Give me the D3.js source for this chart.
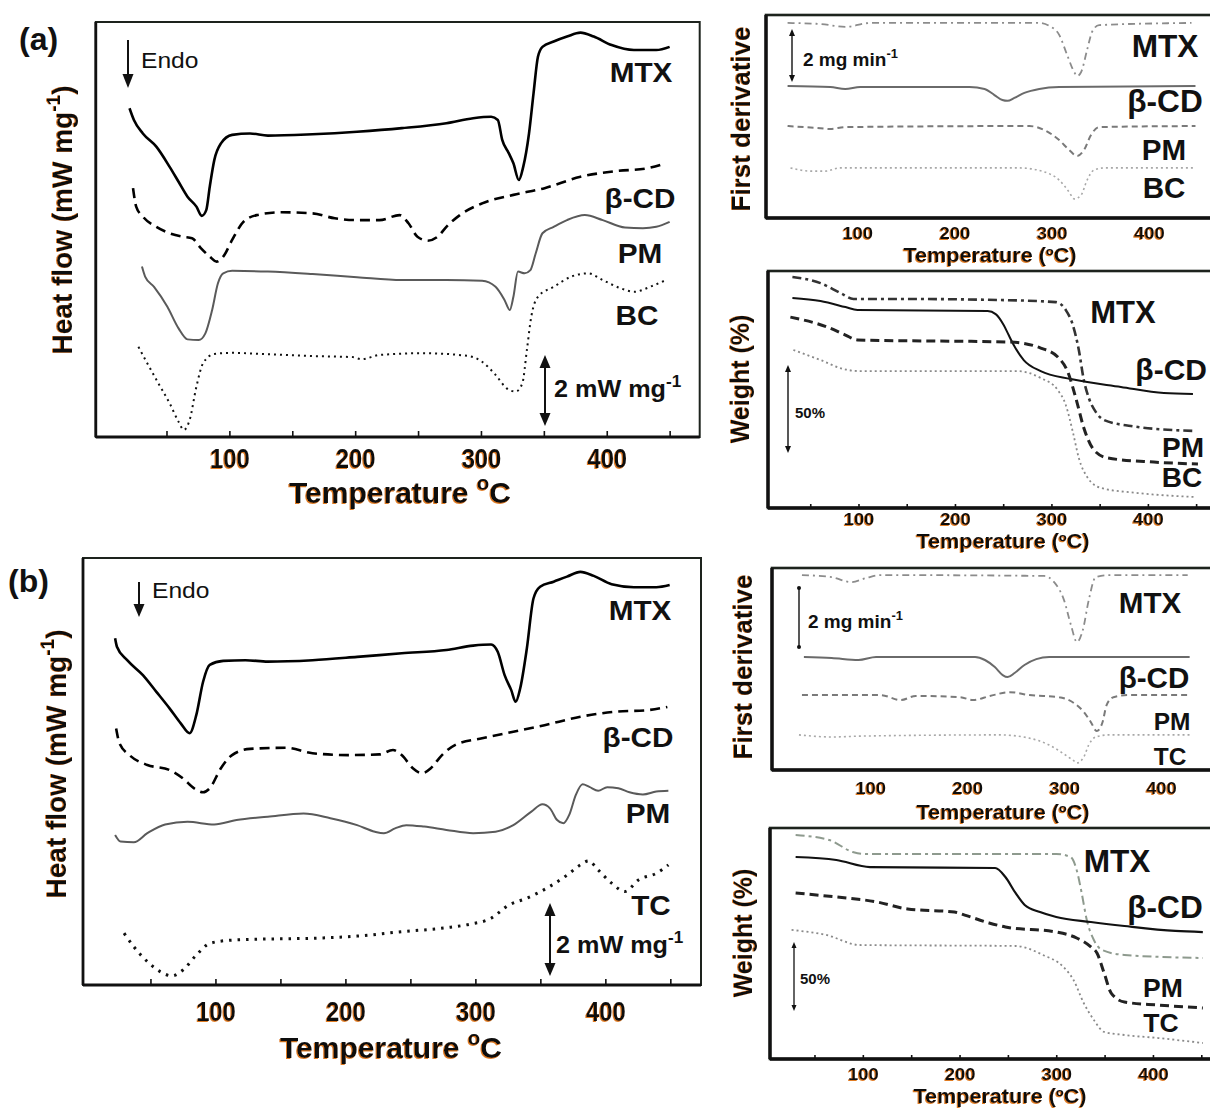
<!DOCTYPE html>
<html><head><meta charset="utf-8">
<script src="https://cdn.jsdelivr.net/npm/d3@7"></script>
<style>
body{margin:0;background:#fff;}
text{font-family:"Liberation Sans",Arial,Helvetica,sans-serif;font-weight:bold;fill:#111;}
</style></head><body>
<script>
// ---------------- DATA ----------------
const tickValues = [50,100,150,200,250,300,350,400,450];
const tickLabels = [100,200,300,400];
const seriesA = ["MTX","β-CD","PM","BC"];
const seriesB = ["MTX","β-CD","PM","TC"];

// DSC (a): [temperature °C, heat flow mW/mg (stacked offset)]
const dscA_MTX = [[20.6,9.26],[24.1,8.93],[31.2,8.55],[41.9,8.18],[52.5,7.61],[59.6,7.19],[66.7,6.77],[73.8,6.49],[78.1,6.23],[81.6,6.39],[84.4,7.05],[88,7.80],[93.3,8.27],[102.2,8.51],[116.4,8.55],[130.6,8.49],[166.1,8.53],[201.5,8.60],[237.1,8.70],[272.5,8.84],[293.8,8.98],[308.1,9.02],[313.4,8.93],[316.9,8.37],[322.2,7.99],[325.8,7.71],[330.1,7.24],[333.6,7.61],[338.2,8.55],[341.8,9.68],[345.3,10.71],[348.9,10.99],[357.8,11.14],[368.4,11.28],[379.1,11.39],[389.7,11.28],[403.9,11.04],[421.6,10.90],[439.4,10.90],[450,10.99]];
const dscA_BCD = [[23.4,7.01],[25.9,6.49],[31.2,6.21],[41.9,5.92],[52.5,5.74],[63.1,5.64],[70.3,5.60],[77.3,5.32],[84.4,5.08],[89.8,4.94],[95.1,5.08],[102.2,5.55],[111.1,6.06],[121.7,6.25],[141.3,6.33],[166.1,6.30],[183.8,6.16],[201.5,6.11],[219.3,6.11],[235.3,6.25],[242.4,6.02],[249.5,5.64],[257.7,5.53],[265.5,5.64],[272.5,5.92],[283.2,6.25],[300.9,6.58],[325.8,6.82],[350.6,7.01],[379.1,7.33],[407.5,7.49],[432.3,7.57],[446.5,7.71]];
const dscA_PM = [[30.5,4.80],[33,4.52],[40.1,4.23],[50.7,3.67],[59.6,3.06],[66.7,2.75],[75.6,2.73],[80.9,2.92],[86.3,3.58],[90.9,4.33],[95.1,4.61],[102.2,4.68],[130.6,4.66],[166.1,4.59],[201.5,4.50],[237.1,4.42],[272.5,4.42],[300.9,4.40],[311.6,4.23],[318.7,3.86],[322.9,3.58],[325.8,3.95],[329.4,4.66],[334.7,4.61],[339.3,4.70],[343.5,5.17],[348.9,5.74],[357.8,5.92],[368.4,6.11],[382.6,6.25],[396.8,6.11],[414.5,5.90],[428.8,5.88],[439.4,5.92],[450,6.06]];
const dscA_BC = [[27.7,2.54],[34.7,2.08],[43.6,1.51],[52.5,0.95],[59.6,0.43],[63.8,0.20],[68.4,0.48],[73.8,1.42],[79.1,2.08],[88,2.34],[102.2,2.37],[130.6,2.33],[166.1,2.28],[198,2.25],[205.1,2.19],[219.3,2.31],[254.8,2.36],[290.3,2.28],[300.9,2.12],[311.6,1.75],[320.5,1.37],[327.5,1.28],[332.9,1.51],[336.5,2.45],[340,3.39],[345.3,3.95],[357.8,4.23],[371.9,4.52],[385.4,4.61],[396.8,4.42],[411,4.19],[421.6,4.09],[435.8,4.25],[448.2,4.44]];

// DSC (b)
const dscB_MTX = [[22.8,9.50],[24.2,9.27],[32.1,8.90],[44.2,8.49],[54.4,8.04],[64.7,7.58],[73.3,7.17],[80.2,6.90],[85.3,7.40],[90.5,8.31],[95.6,8.77],[106,8.88],[123.1,8.90],[140.3,8.86],[174.7,8.90],[209,8.99],[243.3,9.09],[277.7,9.18],[298.3,9.30],[312.1,9.33],[317.2,9.13],[322.5,8.49],[327.6,8.08],[331,7.76],[334.5,8.13],[339.6,9.22],[344.7,10.59],[349.8,10.91],[360.2,11.05],[370.5,11.19],[380.8,11.32],[391.1,11.21],[404.8,10.98],[422,10.90],[439.2,10.90],[449.5,10.96]];
const dscB_BCD = [[23.6,7.03],[26.2,6.62],[33.8,6.30],[47.6,6.03],[64.7,5.89],[75,5.66],[83.6,5.39],[90.5,5.28],[95.6,5.39],[104.2,5.94],[112.8,6.30],[126.6,6.47],[154.1,6.50],[174.7,6.35],[202.1,6.30],[226.2,6.32],[236.6,6.44],[243.3,6.30],[251.9,5.94],[258.8,5.80],[265.7,5.94],[274.3,6.30],[284.6,6.58],[305.2,6.76],[329.2,6.94],[353.2,7.12],[380.8,7.35],[408.3,7.49],[432.3,7.53],[447.7,7.62]];
const dscB_PM = [[22.8,4.11],[27,3.93],[37.2,3.91],[47.6,4.16],[61.3,4.40],[78.5,4.47],[99.1,4.40],[116.2,4.52],[140.3,4.61],[167.8,4.70],[188.4,4.57],[209,4.38],[222.7,4.20],[229.6,4.16],[238.2,4.29],[246.8,4.38],[260.6,4.34],[277.7,4.25],[298.3,4.16],[315.5,4.20],[329.2,4.38],[343.1,4.75],[351.6,4.95],[357.4,4.84],[362.9,4.52],[367.7,4.43],[372.2,4.66],[377.3,5.21],[382.5,5.50],[387.7,5.43],[394.5,5.32],[401.4,5.42],[410,5.39],[418.6,5.28],[428.9,5.22],[439.2,5.30],[448.5,5.32]];
const dscB_TC = [[29.7,1.42],[37.2,1.05],[47.6,0.64],[57.8,0.36],[66.4,0.25],[75,0.41],[85.3,0.82],[95.6,1.14],[112.8,1.23],[140.3,1.26],[174.7,1.28],[209,1.34],[243.3,1.46],[277.7,1.57],[294.9,1.66],[312.1,1.83],[325.7,2.19],[339.6,2.38],[356.7,2.69],[370.5,3.01],[380.8,3.29],[387,3.40],[394.5,3.15],[404.8,2.79],[415.1,2.56],[425.5,2.88],[439.2,3.06],[448.5,3.29]];

// First derivative (a): [°C, mg/min (stacked offset)]
const derA_MTX = [[28.4,7.36],[62.1,7.32],[87.7,7.21],[113.3,7.36],[287.3,7.36],[297.5,7.25],[307.8,6.91],[316,6.15],[323.2,5.51],[326.3,5.36],[330.4,5.51],[336.5,6.34],[341.6,7.02],[348.8,7.28],[443.9,7.36]];
const derA_BCD = [[28.4,4.98],[72.4,4.94],[87.7,4.87],[103.1,4.94],[215.7,4.94],[231,4.87],[241.2,4.64],[249.4,4.45],[254.6,4.42],[261.7,4.53],[272,4.72],[287.3,4.87],[307.8,4.94],[448,4.98]];
const derA_PM = [[28.4,3.47],[57,3.40],[72.4,3.36],[87.7,3.43],[277.1,3.47],[292.4,3.32],[307.8,2.94],[318,2.57],[326.3,2.34],[333.4,2.57],[340.5,3.13],[348.8,3.43],[448,3.47]];
const derA_BC = [[31.4,1.89],[51.9,1.77],[67.2,1.77],[82.6,1.89],[266.8,1.89],[292.4,1.74],[307.8,1.43],[318,0.98],[323.2,0.72],[330.4,0.87],[336.5,1.43],[343.6,1.81],[353.8,1.89],[448,1.89]];

// First derivative (b)
const derB_MTX = [[29.6,6.61],[60.2,6.54],[80.6,6.37],[95.9,6.51],[111.2,6.61],[279.6,6.58],[289.8,6.37],[300,5.76],[307.1,4.92],[313.3,4.34],[319.4,4.75],[325.5,5.76],[332.7,6.54],[345.9,6.61],[427.6,6.61]];
const derB_BCD = [[31.6,3.83],[60.2,3.80],[87.8,3.73],[106.1,3.83],[208.2,3.83],[218.4,3.73],[228.6,3.49],[236.7,3.22],[241.8,3.15],[249,3.29],[259.2,3.56],[271.4,3.76],[284.7,3.83],[429.6,3.83]];
const derB_PM = [[29.6,2.54],[111.2,2.54],[131.6,2.37],[146.9,2.51],[192.9,2.47],[206.1,2.37],[223.5,2.51],[243.9,2.64],[264.3,2.54],[294.9,2.47],[310.2,2.27],[320.4,1.97],[327.6,1.63],[333.7,1.32],[339.8,1.63],[343.9,2.20],[351,2.47],[366.3,2.54],[427.6,2.54]];
const derB_TC = [[26.5,1.19],[60.2,1.12],[90.8,1.15],[233.7,1.19],[264.3,1.08],[284.7,0.85],[300,0.54],[310.2,0.31],[313.3,0.24],[320.4,0.44],[325.5,0.85],[332.7,1.12],[345.9,1.19],[429.6,1.19]];

// TGA (a): [°C, weight % (stacked offset)]
const tgaA_MTX = [[31.5,131.3],[60.6,127.8],[81.3,122.2],[94.8,118.8],[143.6,118.8],[247.4,118.2],[304.5,117],[314.9,112.5],[322.2,104],[328.4,89.8],[333.6,72.7],[338.8,62.5],[346.1,54.5],[354.4,50],[382.4,46.6],[447.8,43.8]];
const tgaA_BCD = [[31.5,119.3],[60.6,117.6],[86.5,114.2],[99,112.5],[233.9,111.9],[242.2,110.2],[250.5,104],[255.7,98.3],[260.9,92.6],[271.3,84.1],[288.9,77.8],[320.1,73.3],[372,68.8],[416.6,65.3],[446.7,64.8]];
const tgaA_PM = [[29.4,108.5],[67.8,102.8],[86.5,98.3],[99,95.5],[257.8,94.3],[288.9,90.9],[306.6,85.8],[317,77.3],[325.3,62.5],[333.6,45.5],[344,33],[358.5,28.4],[406.2,26.1],[451.9,25]];
const tgaA_BC = [[32.5,89.8],[60.6,84.1],[84.4,79],[102.1,77.8],[265.1,77.8],[288.9,73.9],[306.6,67],[314.9,58.5],[322.2,43.2],[328.4,28.4],[337.8,17],[351.3,11.4],[389.6,8.5],[447.8,6.3]];

// TGA (b)
const tgaB_MTX = [[30.5,162.3],[65.3,158.7],[89.5,150],[100,148.6],[300,148.6],[314.7,146.4],[321.1,137],[326.3,120.3],[331.6,100.7],[338.9,86.2],[347.4,79],[370.5,75.4],[451.6,73.2]];
const tgaB_BCD = [[30.5,146.4],[72.6,144.2],[107.4,139.1],[236.8,138.4],[247.4,131.9],[257.9,120.3],[267.4,111.6],[283.2,106.5],[300,102.9],[335.8,99.3],[370.5,96.4],[423.2,92.8],[451.6,92]];
const tgaB_PM = [[30.5,120.3],[72.6,117.4],[114.7,113.8],[146.3,108.7],[194.7,106.5],[205.3,104.3],[230.5,98.6],[247.4,95.7],[300,92],[321.1,87.7],[335.8,81.2],[342.1,76.8],[349.5,62.3],[356.8,47.8],[370.5,41.3],[405.3,39.1],[451.6,37]];
const tgaB_TC = [[26.3,93.5],[62.1,89.9],[96.8,82.6],[257.9,81.9],[286.3,75.4],[307.4,66.7],[317.9,57.2],[328.4,40.6],[338.9,28.3],[349.5,19.6],[370.5,17.4],[405.3,15.2],[451.6,11.6]];

// ---------------- DRAWING ----------------
const W = 1210, H = 1109;
const svg = d3.select("body").append("svg").attr("width", W).attr("height", H);
svg.append("rect").attr("width", W).attr("height", H).attr("fill", "#fff");

// colour-fringe filters (orange halo seen around the scanned texts)
const defs = svg.append("defs");
function fringe(id, dx, dy) {
  const f = defs.append("filter").attr("id", id).attr("x", "-10%").attr("y", "-20%").attr("width", "120%").attr("height", "140%");
  f.append("feOffset").attr("in", "SourceAlpha").attr("dx", dx).attr("dy", dy).attr("result", "off");
  f.append("feFlood").attr("flood-color", "#e07b24").attr("result", "col");
  f.append("feComposite").attr("in", "col").attr("in2", "off").attr("operator", "in").attr("result", "orange");
  const m = f.append("feMerge");
  m.append("feMergeNode").attr("in", "orange");
  m.append("feMergeNode").attr("in", "SourceGraphic");
}
fringe("fr", -1.3, 0.5);   // horizontal text
fringe("frR", -0.5, -1.3); // text rotated -90°

function txt(g, x, y, parts, size, o = {}) {
  const t = g.append("text")
    .attr("transform", `translate(${x},${y})${o.rot ? " rotate(" + o.rot + ")" : ""} scale(${o.sx || 1},1)`)
    .attr("text-anchor", o.anchor || "start")
    .style("font-size", size + "px");
  if (o.weight) t.style("font-weight", o.weight);
  if (o.fill) t.style("fill", o.fill);
  if (o.filter) t.attr("filter", `url(#${o.filter})`);
  (Array.isArray(parts) ? parts : [[parts, 0]]).forEach(([s, sup]) => {
    const ts = t.append("tspan").text(s);
    if (sup === 1) ts.attr("dy", -size * 0.42).style("font-size", (size * 0.68) + "px");
    if (sup === -1) ts.attr("dy", size * 0.42);
  });
  return t;
}

function makePanel(p) {
  const x = d3.scaleLinear().domain(p.xd).range([p.l, p.r]);
  const y = d3.scaleLinear().domain(p.yd).range([p.b, p.t]);
  const g = svg.append("g");
  g.append("rect").attr("x", p.l).attr("y", p.t).attr("width", p.r - p.l).attr("height", p.b - p.t)
    .attr("fill", "none").attr("stroke", "#1d231d").attr("stroke-width", p.fw);
  g.append("line").attr("x1", p.l).attr("x2", p.r).attr("y1", p.b).attr("y2", p.b)
    .attr("stroke", "#111").attr("stroke-width", p.fw + 0.8);
  g.append("line").attr("x1", p.l).attr("x2", p.l).attr("y1", p.t).attr("y2", p.b)
    .attr("stroke", "#111").attr("stroke-width", p.fw + 0.8);
  const ax = g.append("g").attr("transform", `translate(0,${p.b})`)
    .call(d3.axisBottom(x).tickValues(tickValues).tickSize(-p.tick).tickFormat(d => tickLabels.includes(d) ? d : ""));
  ax.select(".domain").remove();
  ax.selectAll(".tick line").attr("stroke", "#111").attr("stroke-width", 1.6);
  ax.selectAll(".tick text").attr("y", p.lblY - p.b).attr("dy", null).attr("x", 0)
    .attr("fill", "#111").attr("transform", `scale(${p.lblSx},1)`).attr("filter", "url(#fr)")
    .style("font-size", p.lblSize + "px").style("font-family", '"Liberation Sans",Arial,sans-serif').style("font-weight", "bold");
  return {x, y, g, p};
}

function drawSeries(P, data, st) {
  const line = d3.line().x(d => P.x(d[0])).y(d => P.y(d[1])).curve(d3.curveMonotoneX);
  P.g.append("path").datum(data).attr("d", line).attr("fill", "none")
    .attr("stroke", st.c).attr("stroke-width", st.w)
    .attr("stroke-dasharray", st.dash || null).attr("stroke-linejoin", "round")
    .attr("stroke-linecap", "butt");
}

function arrowHead(g, x, y, dir, s, w) {
  g.append("path").attr("d", `M${x - w},${y - dir * s} L${x},${y} L${x + w},${y - dir * s} Z`).attr("fill", "#111");
}
function vArrow(g, x, y1, y2, sw, s, w, both) {
  g.append("line").attr("x1", x).attr("x2", x).attr("y1", y1 + (both ? s * 0.6 : 0)).attr("y2", y2 - s * 0.6)
    .attr("stroke", "#111").attr("stroke-width", sw);
  arrowHead(g, x, y2, 1, s, w);
  if (both) arrowHead(g, x, y1, -1, s, w);
}

// ---- styles ----
const sDSC = {
  MTX: {c: "#000", w: 2.6},
  BCD: {c: "#000", w: 2.6, dash: "10,6"},
  PM: {c: "#5a5a5a", w: 2},
  BC: {c: "#111", w: 2, dash: "2,4"},
  TC: {c: "#111", w: 3, dash: "2.5,6"}
};
const sDER = {
  MTX: {c: "#8c8c8c", w: 1.8, dash: "7,4,2,4"},
  BCD: {c: "#6a6a6a", w: 2},
  PM: {c: "#7a7a7a", w: 2, dash: "6,4"},
  BC: {c: "#a8a8a8", w: 1.6, dash: "2,3"}
};

// ====== Panel (a) DSC ======
const A = makePanel({l: 95.8, r: 699.7, t: 22, b: 437, xd: [-6.2, 473.9], yd: [0, 11.69], fw: 2, tick: 6, lblY: 468, lblSize: 27, lblSx: 0.88});
drawSeries(A, dscA_MTX, sDSC.MTX);
drawSeries(A, dscA_BCD, sDSC.BCD);
drawSeries(A, dscA_PM, sDSC.PM);
drawSeries(A, dscA_BC, sDSC.BC);
txt(svg, 400, 503, [["Temperature ", 0], ["o", 1], ["C", -1]], 30, {anchor: "middle", filter: "fr"});
txt(svg, 72, 220, [["Heat flow (mW mg", 0], ["-1", 1], [")", -1]], 28, {anchor: "middle", rot: -90, filter: "frR"});
txt(svg, 19, 50, "(a)", 32);
[["MTX", 641, 82], ["β-CD", 640, 208], ["PM", 640, 263], ["BC", 637, 325]].forEach(([s, x, y]) => txt(svg, x, y, s, 27, {anchor: "middle", sx: 1.1}));
vArrow(svg, 128, 40, 88, 2, 14, 5.5, false);
txt(svg, 141, 68, "Endo", 22, {weight: "normal", sx: 1.12});
vArrow(svg, 545, 355, 426, 2, 13, 5.5, true);
txt(svg, 554, 397, [["2 mW mg", 0], ["-1", 1]], 24, {sx: 1.05});

// ====== Panel (b) DSC ======
const B = makePanel({l: 83, r: 701, t: 558, b: 985, xd: [-1.9, 473.6], yd: [0, 11.70], fw: 2, tick: 6, lblY: 1021, lblSize: 27, lblSx: 0.88});
drawSeries(B, dscB_MTX, sDSC.MTX);
drawSeries(B, dscB_BCD, sDSC.BCD);
drawSeries(B, dscB_PM, sDSC.PM);
drawSeries(B, dscB_TC, sDSC.TC);
txt(svg, 391, 1058, [["Temperature ", 0], ["o", 1], ["C", -1]], 30, {anchor: "middle", filter: "fr"});
txt(svg, 66, 764, [["Heat flow (mW mg", 0], ["-1", 1], [")", -1]], 28, {anchor: "middle", rot: -90, filter: "frR"});
txt(svg, 8, 592, "(b)", 32);
[["MTX", 640, 620], ["β-CD", 638, 747], ["PM", 648, 823], ["TC", 651, 915]].forEach(([s, x, y]) => txt(svg, x, y, s, 27, {anchor: "middle", sx: 1.1}));
vArrow(svg, 139, 582, 617, 2, 13, 5.5, false);
txt(svg, 152, 598, "Endo", 22, {weight: "normal", sx: 1.12});
vArrow(svg, 550, 903, 976, 2, 13, 5.5, true);
txt(svg, 556, 953, [["2 mW mg", 0], ["-1", 1]], 24, {sx: 1.05});

// ====== First derivative (a) ======
const DA = makePanel({l: 766, r: 1216, t: 15, b: 218, xd: [6.2, 469.1], yd: [0, 7.66], fw: 2.6, tick: 0, lblY: 239, lblSize: 17, lblSx: 1.08});
drawSeries(DA, derA_MTX, sDER.MTX);
drawSeries(DA, derA_BCD, sDER.BCD);
drawSeries(DA, derA_PM, sDER.PM);
drawSeries(DA, derA_BC, sDER.BC);
txt(svg, 990, 262, "Temperature (ºC)", 20, {anchor: "middle", sx: 1.08, filter: "fr"});
txt(svg, 750, 119, "First derivative", 26, {anchor: "middle", rot: -90, filter: "frR"});
[["MTX", 1165, 57, 31], ["β-CD", 1165, 112, 31], ["PM", 1164, 160, 29], ["BC", 1164, 198, 29]].forEach(([s, x, y, f]) => txt(svg, x, y, s, f, {anchor: "middle", sx: 1.02}));
vArrow(svg, 792, 29, 82, 1.4, 7, 3, true);
txt(svg, 803, 66, [["2 mg min", 0], ["-1", 1]], 19);

// ====== TGA (a) ======
const TA = makePanel({l: 768, r: 1216, t: 271, b: 508, xd: [6.2, 470.6], yd: [0, 134.7], fw: 2.6, tick: 4, lblY: 525, lblSize: 17, lblSx: 1.08});
drawSeries(TA, tgaA_MTX, {c: "#333", w: 2.6, dash: "9,4,3,4"});
drawSeries(TA, tgaA_BCD, {c: "#111", w: 2});
drawSeries(TA, tgaA_PM, {c: "#222", w: 3, dash: "9,5"});
drawSeries(TA, tgaA_BC, {c: "#8a8a8a", w: 1.8, dash: "2,3"});
txt(svg, 1003, 548, "Temperature (ºC)", 20, {anchor: "middle", sx: 1.08, filter: "fr"});
txt(svg, 749, 379, "Weight (%)", 25, {anchor: "middle", rot: -90, filter: "frR"});
[["MTX", 1123, 323, 31, "middle"], ["β-CD", 1207, 380, 30, "end"], ["PM", 1183, 457, 28, "middle"], ["BC", 1182, 487, 28, "middle"]].forEach(([s, x, y, f, a]) => txt(svg, x, y, s, f, {anchor: a}));
vArrow(svg, 788, 365, 453, 1.4, 7, 3, true);
txt(svg, 795, 418, "50%", 15);

// ====== First derivative (b) ======
const DB = makePanel({l: 772, r: 1216, t: 568, b: 770, xd: [-1.3, 456.8], yd: [0, 6.85], fw: 2.6, tick: 0, lblY: 794, lblSize: 17, lblSx: 1.08});
drawSeries(DB, derB_MTX, sDER.MTX);
drawSeries(DB, derB_BCD, sDER.BCD);
drawSeries(DB, derB_PM, sDER.PM);
drawSeries(DB, derB_TC, sDER.BC);
txt(svg, 1003, 819, "Temperature (ºC)", 20, {anchor: "middle", sx: 1.08, filter: "fr"});
txt(svg, 752, 667, "First derivative", 26, {anchor: "middle", rot: -90, filter: "frR"});
[["MTX", 1150, 613, 29], ["β-CD", 1154, 688, 29], ["PM", 1172, 730, 24], ["TC", 1170, 765, 24]].forEach(([s, x, y, f]) => txt(svg, x, y, s, f, {anchor: "middle", sx: 1.02}));
svg.append("line").attr("x1", 799).attr("x2", 799).attr("y1", 588).attr("y2", 647).attr("stroke", "#111").attr("stroke-width", 1.4);
svg.append("circle").attr("cx", 799).attr("cy", 588).attr("r", 2).attr("fill", "#111");
svg.append("circle").attr("cx", 799).attr("cy", 647).attr("r", 2).attr("fill", "#111");
txt(svg, 808, 628, [["2 mg min", 0], ["-1", 1]], 19);

// ====== TGA (b) ======
const TB = makePanel({l: 770, r: 1216, t: 828, b: 1059, xd: [4.0, 465.2], yd: [0, 167.4], fw: 2.6, tick: 4, lblY: 1080, lblSize: 17, lblSx: 1.08});
drawSeries(TB, tgaB_MTX, {c: "#8e9a8e", w: 2, dash: "9,4,3,4"});
drawSeries(TB, tgaB_BCD, {c: "#111", w: 2.2});
drawSeries(TB, tgaB_PM, {c: "#222", w: 3, dash: "9,5"});
drawSeries(TB, tgaB_TC, {c: "#8a8a8a", w: 1.8, dash: "2,3"});
txt(svg, 1000, 1103, "Temperature (ºC)", 20, {anchor: "middle", sx: 1.08, filter: "fr"});
txt(svg, 752, 933, "Weight (%)", 25, {anchor: "middle", rot: -90, filter: "frR"});
[["MTX", 1117, 872, 31], ["β-CD", 1165, 918, 31], ["PM", 1163, 997, 26], ["TC", 1161, 1032, 26]].forEach(([s, x, y, f]) => txt(svg, x, y, s, f, {anchor: "middle", sx: 1.02}));
vArrow(svg, 794, 942, 1011, 1.3, 6, 2.5, true);
txt(svg, 800, 984, "50%", 15);
</script>
</body></html>
